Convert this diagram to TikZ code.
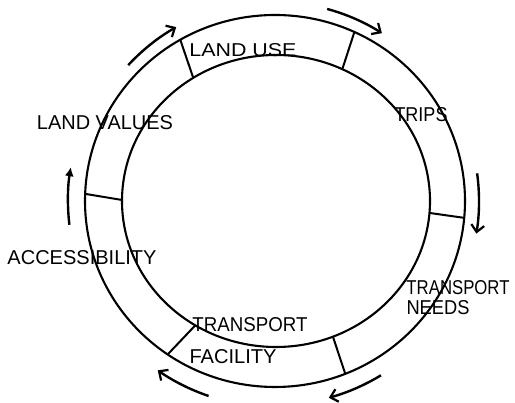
\documentclass[tikz,border=0pt]{standalone}
\usepackage{fontspec}
\setmainfont{Liberation Sans}
\usetikzlibrary{arrows.meta,calc}
\tikzset{
  ring/.style={line width=2.1pt},
  divider/.style={line width=2pt},
  flow/.style={line width=2.4pt, -{Straight Barb[length=7pt,width=13pt,line width=2.2pt]}},
  flowfill/.style={line width=2.4pt, -{Latex[length=9pt,width=9pt]}},
  lbl/.style={inner sep=0pt}
}
\newcommand{\lettering}[3]{\resizebox{#1pt}{#2pt}{#3}}
\begin{document}
\begin{tikzpicture}[x=1pt,y=1pt]
\useasboundingbox (0,0) rectangle (515,403);
\coordinate (C) at (275,202);
\coordinate (Ci) at (276,202);
% ring
\draw[ring] (C) ellipse[x radius=190, y radius=186];
\draw[ring] (Ci) ellipse[x radius=154, y radius=146];
% dividers
\foreach \ao/\ai in {119.9/122.5, 65.3/64.5, -5.2/-4.7, -68.3/-68.3, -124.4/-121.6, 177.8/179.6}{
  \draw[divider] ($(C)+(\ao:190 and 186)$) -- ($(Ci)+(\ai:154 and 146)$);
}
% labels
\node[lbl] (landuse) at (243,353) {\lettering{107}{13}{LAND USE}};
\node[lbl] (landvalues) at (105,280) {\lettering{136}{14}{LAND VALUES}};
\node[lbl] (trips) at (421,288) {\lettering{53}{14}{TRIPS}};
\node[lbl] (tneeds) at (458,115) {\lettering{103}{14}{TRANSPORT}};
\node[lbl] (needs) at (438,95) {\lettering{63}{14}{NEEDS}};
\node[lbl] (access) at (82,145) {\lettering{149}{14}{ACCESSIBILITY}};
\node[lbl] (tfac) at (250,78) {\lettering{115}{14}{TRANSPORT}};
\node[lbl] (facility) at (233,46) {\lettering{87}{14}{FACILITY}};
% cycle arrows
\coordinate (a1) at ($(C)+(137.2:200)$);
\coordinate (a2) at ($(C)+(74.8:199)$);
\coordinate (a3) at ($(C)+(7.8:204)$);
\coordinate (a4) at ($(C)+(-58.7:204)$);
\coordinate (a5) at ($(C)+(-108.8:206)$);
\coordinate (a6) at ($(C)+(186.6:207)$);
\draw[flow] (a1) arc[start angle=137.2, end angle=119.6, radius=200];
\draw[flow] (a2) arc[start angle=74.8, end angle=57.5, radius=199];
\draw[flow] (a3) arc[start angle=7.8, end angle=-9.2, radius=204];
\draw[flow] (a4) arc[start angle=-58.7, end angle=-74.7, radius=204];
\draw[flow] (a5) arc[start angle=-108.8, end angle=-124.7, radius=206];
\draw[flowfill] (a6) arc[start angle=186.6, end angle=170.6, radius=207];
\end{tikzpicture}
\end{document}
